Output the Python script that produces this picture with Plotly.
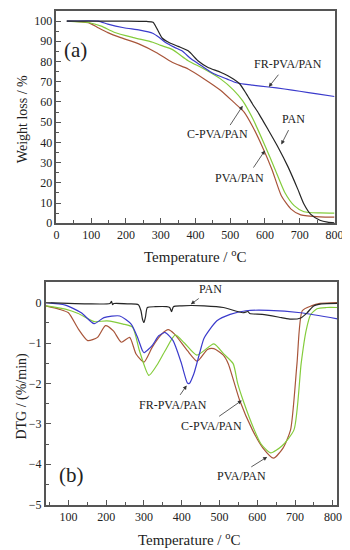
import plotly.graph_objects as go

# ---------------- TGA (a) ----------------
T_pan_a = [30, 100, 200, 260, 278, 290, 305, 324, 350, 379, 407, 435, 472, 509, 527, 546, 564, 583, 610, 638, 666, 694, 712, 731, 758, 780, 800]
W_pan_a = [100, 100, 100, 99.8, 99.4, 96, 91.5, 89.4, 87.5, 85.3, 80.4, 77.2, 74.7, 71.4, 69, 64.1, 59, 54, 46, 37.5, 28, 17, 9.5, 4.5, 1.5, 0.5, 0.2]

T_fr_a = [30, 120, 148, 194, 240, 277, 295, 314, 340, 361, 388, 416, 453, 490, 518, 540, 564, 610, 656, 700, 750, 800]
W_fr_a = [100, 100, 98.5, 96.7, 95.5, 94, 92, 89.4, 87, 85.3, 81.2, 78, 73.9, 71.4, 69.5, 68.8, 68.3, 67.4, 66.4, 65.3, 64, 62.7]

T_c_a = [30, 92, 129, 166, 222, 277, 300, 333, 379, 425, 472, 509, 536, 564, 601, 629, 657, 684, 712, 758, 800]
W_c_a = [100, 99.3, 97.5, 94.5, 91.8, 89.5, 88, 86, 80.4, 76.3, 71.4, 66, 60.5, 52, 38, 26.6, 15.2, 8.7, 5.7, 5.1, 5.0]

T_p_a = [30, 92, 120, 148, 185, 240, 287, 333, 379, 425, 472, 509, 540, 564, 592, 620, 647, 675, 703, 758, 800]
W_p_a = [100, 99.2, 96.7, 94.3, 91.8, 88.5, 84.5, 79.6, 76.3, 71.4, 65.8, 60, 55, 48, 38, 26.6, 13.6, 7.0, 4.1, 3.1, 3.0]

# ---------------- DTG (b) ----------------
T_pan_b = [40, 100, 150, 210, 214, 217, 220, 260, 285, 292, 296, 300, 304, 309, 330, 360, 368, 373, 378, 400, 424, 459, 510, 562, 575, 580, 613, 664, 689, 715, 732, 749, 770, 812]
D_pan_b = [0, -0.02, -0.03, -0.02, 0.03, -0.05, -0.02, -0.03, -0.05, -0.2, -0.41, -0.49, -0.35, -0.12, -0.1, -0.1, -0.12, -0.22, -0.1, -0.08, -0.07, -0.08, -0.12, -0.25, -0.22, -0.27, -0.29, -0.37, -0.41, -0.38, -0.25, -0.08, -0.03, -0.02]

T_fr_b = [40, 92, 134, 168, 194, 236, 266, 283, 296, 300, 322, 339, 356, 377, 398, 415, 420, 432, 449, 459, 493, 528, 570, 630, 715, 812]
D_fr_b = [0, -0.06, -0.25, -0.52, -0.37, -0.33, -0.53, -0.86, -1.19, -1.24, -1.06, -0.82, -0.74, -0.94, -1.47, -1.99, -2.0, -1.76, -1.19, -0.88, -0.45, -0.29, -0.2, -0.19, -0.25, -0.4]

T_c_b = [40, 92, 126, 168, 202, 245, 270, 288, 313, 334, 356, 383, 407, 440, 485, 511, 536, 548, 562, 592, 610, 635, 665, 697, 716, 729, 741, 758, 783, 812]
D_c_b = [-0.08, -0.16, -0.27, -0.47, -0.45, -0.53, -0.61, -1.19, -1.8, -1.55, -1.19, -0.8, -1.0, -1.3, -1.02, -1.27, -1.51, -2.0, -2.41, -3.15, -3.5, -3.72, -3.55, -3.15, -1.51, -0.7, -0.3, -0.15, -0.12, -0.12]

T_p_b = [40, 75, 100, 126, 151, 177, 198, 219, 240, 262, 279, 300, 322, 347, 364, 381, 415, 441, 468, 485, 510, 523, 553, 587, 615, 643, 668, 688, 705, 719, 743, 766, 812]
D_p_b = [-0.08, -0.16, -0.25, -0.65, -0.94, -0.86, -0.57, -0.7, -0.98, -0.86, -1.27, -1.47, -1.1, -0.78, -0.67, -0.78, -1.19, -1.45, -1.16, -1.14, -1.3, -1.51, -2.41, -3.15, -3.6, -3.85, -3.6, -3.15, -1.51, -0.2, -0.08, -0.02, 0.0]

C_PAN = "#262626"
C_FR = "#3b3bcc"
C_C = "#84cc3c"
C_P = "#a8553a"
FONT = "'Liberation Serif', 'Times New Roman', Times, serif"

fig = go.Figure()

def add(x, y, color, xa, ya):
    fig.add_trace(go.Scatter(x=x, y=y, mode="lines", xaxis=xa, yaxis=ya,
                             line=dict(color=color, width=1.2, shape="spline", smoothing=0.6),
                             showlegend=False, hoverinfo="skip"))

add(T_p_a, W_p_a, C_P, "x", "y")
add(T_c_a, W_c_a, C_C, "x", "y")
add(T_fr_a, W_fr_a, C_FR, "x", "y")
add(T_pan_a, W_pan_a, C_PAN, "x", "y")

add(T_p_b, D_p_b, C_P, "x2", "y2")
add(T_c_b, D_c_b, C_C, "x2", "y2")
add(T_fr_b, D_fr_b, C_FR, "x2", "y2")
add(T_pan_b, D_pan_b, C_PAN, "x2", "y2")

axis_common = dict(showline=True, linecolor="#555555", linewidth=1.5, mirror=True,
                   ticks="inside", ticklen=5, tickwidth=1, tickcolor="#555555",
                   showgrid=False, zeroline=False,
                   tickfont=dict(family=FONT, size=12, color="#222222"))

fig.update_layout(
    width=350, height=550,
    margin=dict(l=0, r=0, t=0, b=0),
    paper_bgcolor="white", plot_bgcolor="white",
    font=dict(family=FONT, color="#222222"),
    xaxis=dict(domain=[47/350, 335/350], range=[0, 800], anchor="y",
               tickvals=[0, 100, 200, 300, 400, 500, 600, 700, 800],
               minor=dict(ticks="inside", ticklen=3, dtick=50, tickcolor="#555555"),
               **axis_common),
    yaxis=dict(domain=[1-218/550, 1-3/550], range=[0, 105], anchor="x",
               tickvals=[0, 10, 20, 30, 40, 50, 60, 70, 80, 90, 100],
               minor=dict(ticks="inside", ticklen=3, dtick=5, tickcolor="#555555"),
               **axis_common),
    xaxis2=dict(domain=[36/350, 338/350], range=[40, 812], anchor="y2",
                tickvals=[100, 200, 300, 400, 500, 600, 700, 800],
                minor=dict(ticks="inside", ticklen=3, dtick=50, tick0=0, tickcolor="#555555"),
                **axis_common),
    yaxis2=dict(domain=[1-503/550, 1-278/550], range=[-5, 0.5], anchor="x2",
                tickvals=[0, -1, -2, -3, -4, -5],
                minor=dict(ticks="inside", ticklen=3, dtick=0.5, tickcolor="#555555"),
                **axis_common),
)

ann = []
def label(text, x, y, xr, yr, size=12):
    ann.append(dict(text=text, x=x, y=y, xref=xr, yref=yr, showarrow=False,
                    xanchor="center", yanchor="middle",
                    font=dict(family=FONT, size=size, color="#222222")))

def arrow(x0, y0, x1, y1, xr, yr):
    ann.append(dict(text="", x=x1, y=y1, ax=x0, ay=y0, xref=xr, yref=yr,
                    axref=xr, ayref=yr, showarrow=True, arrowhead=2,
                    arrowsize=1, arrowwidth=0.8, arrowcolor="#333333"))

# panel (a)
label("(a)", 56, 85.5, "x", "y", 21)
label("FR-PVA/PAN", 667, 79, "x", "y")
arrow(642, 74.2, 611, 67.4, "x", "y")
label("PAN", 683, 51.7, "x", "y")
arrow(670, 46.8, 647, 39, "x", "y")
label("C-PVA/PAN", 462, 43.9, "x", "y")
arrow(497, 47.8, 536, 58.1, "x", "y")
label("PVA/PAN", 528, 22.4, "x", "y")
arrow(564, 26.8, 600, 36, "x", "y")

# panel (b)
label("(b)", 109, -4.26, "x2", "y2", 21)
label("PAN", 477, 0.33, "x2", "y2")
arrow(449, 0.13, 424, -0.04, "x2", "y2")
label("FR-PVA/PAN", 378, -2.54, "x2", "y2")
arrow(393, -2.32, 413, -2.05, "x2", "y2")
label("C-PVA/PAN", 480, -3.06, "x2", "y2")
arrow(495, -2.84, 559, -2.42, "x2", "y2")
label("PVA/PAN", 557, -4.28, "x2", "y2")
arrow(580, -4.09, 626, -3.82, "x2", "y2")

# axis titles
def title(text, px, py, angle=0, size=14):
    ann.append(dict(text=text, x=px/350, y=1-py/550, xref="paper", yref="paper",
                    xanchor="center", yanchor="middle",
                    showarrow=False, textangle=angle,
                    font=dict(family=FONT, size=size, color="#222222")))

title("Weight loss / %", 12, 113, -90)
title("Temperature / <sup>o</sup>C", 191, 251, 0, 15)
title("DTG / (%/min)", 11, 393, -90)
title("Temperature / <sup>o</sup>C", 185, 538, 0, 15)

fig.update_layout(annotations=ann)
fig.write_html("out.html")
